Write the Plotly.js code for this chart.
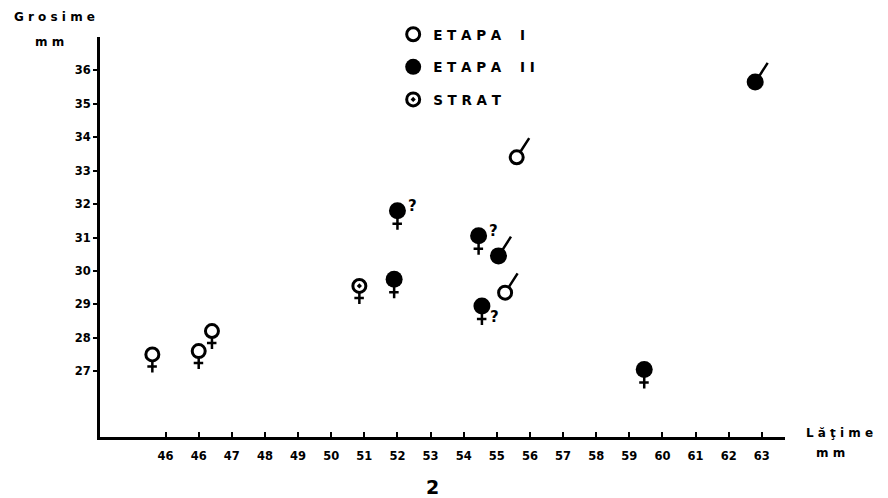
<!DOCTYPE html>
<html>
<head>
<meta charset="utf-8">
<script src="https://cdn.plot.ly/plotly-3.0.1.min.js"></script>
<style>html,body{margin:0;padding:0;background:#fff;}#chart{width:888px;height:498px;}</style>
</head>
<body>
<div id="chart"></div>
<script>
// ---- data ----
const etapa1X   = [44.6, 46.0, 46.4, 55.25, 55.6];
const etapa1Y   = [27.5, 27.6, 28.2, 29.35, 33.4];
const etapa1Sex = ['F', 'F', 'F', 'M', 'M'];
const etapa1Q   = ['', '', '', '', ''];

const etapa2X   = [51.9, 52.0, 54.45, 55.05, 54.55, 62.8, 59.45];
const etapa2Y   = [29.75, 31.8, 31.05, 30.45, 28.95, 35.65, 27.05];
const etapa2Sex = ['F', 'F', 'F', 'M', 'F', 'M', 'F'];
const etapa2Q   = ['', 'up', 'up', '', 'down', '', ''];

const stratX   = [50.85];
const stratY   = [29.55];
const stratSex = ['F'];
const stratQ   = [''];

const tickVals  = [45,46,47,48,49,50,51,52,53,54,55,56,57,58,59,60,61,62,63];
const tickTexts = ['46','46','47','48','49','50','51','52','53','54','55','56','57','58','59','60','61','62','63'];
const yTickVals = [27,28,29,30,31,32,33,34,35,36];

const seriesNames = ['ETAPA I', 'ETAPA II', 'STRAT'];

// ---- build ----
const FONT = 'DejaVu Sans, sans-serif';
const GAP = '\u00A0';
const sp = s => s.split('').map(c => c === ' ' ? '\u00A0\u00A0' : c).join(GAP);
const BLACK = '#000';

const traces = [
  {x: etapa1X, y: etapa1Y, name: sp(seriesNames[0]), mode: 'markers', type: 'scatter', legendgroup: 'a',
   marker: {symbol: 'circle-open', size: 13, color: BLACK, line: {width: 3, color: BLACK}}},
  {x: etapa2X, y: etapa2Y, name: sp(seriesNames[1]), mode: 'markers', type: 'scatter', legendgroup: 'b',
   marker: {symbol: 'circle', size: 17, color: BLACK}},
  {x: stratX, y: stratY, name: sp(seriesNames[2]), mode: 'markers', type: 'scatter', legendgroup: 'c',
   marker: {symbol: 'circle-open-dot', size: 13, color: BLACK, line: {width: 3, color: BLACK}}}
];

const annotations = [];
const tiny = {size: 1, color: 'rgba(0,0,0,0)'};
function line(x, y, xs, ys, ax, ay, w) {
  annotations.push({x: x, y: y, xref: 'x', yref: 'y', text: ' ', font: tiny, showarrow: true,
    arrowhead: 0, ax: ax, ay: ay, xshift: xs, yshift: ys, standoff: 0, startstandoff: 0,
    arrowwidth: w, arrowcolor: BLACK, borderpad: 0});
}
function addSigns(xs, ys, sex, q, big) {
  const r = big ? 7 : 6;
  for (let i = 0; i < xs.length; i++) {
    if (sex[i] === 'F') {
      line(xs[i], ys[i], 0, -r, 0, 13, 2.5);          // stem
      line(xs[i], ys[i], -5, -r - 6, 10, 0, 2.5);     // cross bar
    } else {
      line(xs[i], ys[i], 4, 6, 9, -14, 2.5);          // male stem
    }
    if (q[i] === 'up') {
      annotations.push({x: xs[i], y: ys[i], xref: 'x', yref: 'y', text: '?', showarrow: false,
        xshift: 15, yshift: 5, font: {family: FONT, size: 15, color: BLACK, weight: 'bold'}});
    } else if (q[i] === 'down') {
      annotations.push({x: xs[i], y: ys[i], xref: 'x', yref: 'y', text: '?', showarrow: false,
        xshift: 13, yshift: -11, font: {family: FONT, size: 15, color: BLACK, weight: 'bold'}});
    }
  }
}
addSigns(etapa1X, etapa1Y, etapa1Sex, etapa1Q, false);
addSigns(etapa2X, etapa2Y, etapa2Sex, etapa2Q, true);
addSigns(stratX, stratY, stratSex, stratQ, false);

const lblFont = {family: FONT, size: 12, color: BLACK, weight: 'bold'};
function lbl(x, y, t, f) {
  annotations.push({xref: 'paper', yref: 'paper', x: x, y: y, xanchor: 'center', yanchor: 'middle',
    text: t, showarrow: false, font: f || lblFont});
}
lbl(-0.067, 1.05, 'Grosime'.split('').join('\u00A0'));
lbl(-0.073, 0.9875, 'm\u00A0m');
lbl(1.079, 0.01, 'Lăţime'.split('').join('\u00A0'));
lbl(1.066, -0.04, 'm\u00A0m');
lbl(0.486, -0.125, '2', {family: FONT, size: 19, color: BLACK, weight: 'bold'});

const tickFont = {family: FONT, size: 11.5, color: BLACK, weight: 'bold'};
const layout = {
  width: 888, height: 498,
  margin: {l: 100, r: 103, t: 37, b: 61},
  paper_bgcolor: '#fff', plot_bgcolor: '#fff',
  showlegend: true,
  legend: {x: 0.428, y: 1.045, xanchor: 'left', yanchor: 'top', tracegroupgap: 12,
           font: {family: FONT, size: 13.5, color: BLACK, weight: 'bold'}, bgcolor: 'rgba(0,0,0,0)'},
  xaxis: {range: [43.02, 63.7], tickvals: tickVals, ticktext: tickTexts, showgrid: false, zeroline: false,
          showline: true, linewidth: 3, linecolor: BLACK, ticks: 'inside', ticklen: 5, tickwidth: 2,
          tickcolor: BLACK, tickfont: tickFont, ticklabelstandoff: 6},
  yaxis: {range: [25.03, 37.0], tickvals: yTickVals, showgrid: false, zeroline: false,
          showline: true, linewidth: 3, linecolor: BLACK, ticks: 'outside', ticklen: 4, tickwidth: 2,
          tickcolor: BLACK, tickfont: tickFont},
  annotations: annotations
};

Plotly.newPlot('chart', traces, layout, {displayModeBar: false, staticPlot: true});
</script>
</body>
</html>
